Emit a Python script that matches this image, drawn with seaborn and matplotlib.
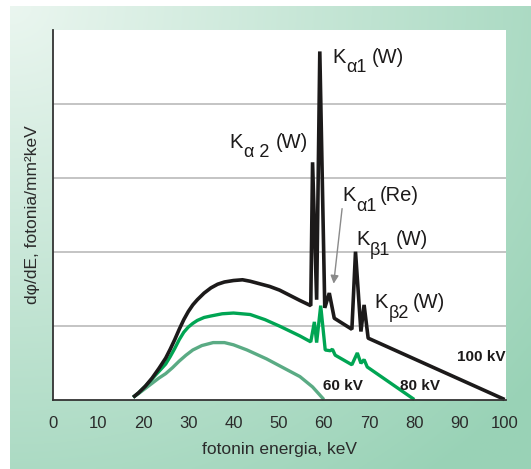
import numpy as np
import matplotlib.pyplot as plt
import seaborn as sns

# Spektrit luettu kuvasta: energia (keV) ja dphi/dE (suhteellinen, ruudukon yksikkö)
e100 = [17.8, 19.0, 20.5, 22.0, 23.5, 25.0, 26.0, 27.0, 28.0, 29.0, 30.0, 31.0, 32.0, 33.5, 35.0,
        36.5, 38.0, 40.0, 42.0, 43.7, 48.0, 50.2, 54.7, 57.1, 57.5, 58.4, 59.1, 60.2, 61.2, 62.3,
        66.2, 67.0, 68.2, 68.9, 69.8, 100.0]
d100 = [0.03, 0.09, 0.18, 0.29, 0.42, 0.56, 0.68, 0.81, 0.95, 1.08, 1.19, 1.28, 1.35, 1.44, 1.51,
        1.56, 1.59, 1.61, 1.62, 1.60, 1.53, 1.48, 1.34, 1.27, 3.21, 1.35, 4.71, 1.24, 1.44, 1.10,
        0.95, 2.00, 0.92, 1.28, 0.83, 0.0]

e80 = [17.8, 19.0, 20.5, 22.0, 23.5, 25.0, 26.0, 27.0, 28.0, 29.0, 30.0, 31.0, 32.0, 33.5, 35.0,
       37.5, 40.0, 43.7, 47.0, 50.3, 54.7, 57.1, 57.9, 58.4, 59.3, 60.3, 61.4, 61.9, 62.5, 66.2,
       67.4, 68.2, 68.9, 69.6, 80.0]
d80 = [0.03, 0.09, 0.18, 0.28, 0.38, 0.48, 0.58, 0.69, 0.81, 0.91, 0.98, 1.03, 1.07, 1.11, 1.13,
       1.16, 1.17, 1.15, 1.08, 0.99, 0.86, 0.78, 1.05, 0.77, 1.27, 0.67, 0.66, 0.68, 0.60, 0.47,
       0.63, 0.49, 0.54, 0.44, 0.0]

e60 = [17.8, 19.0, 20.5, 22.0, 23.5, 25.0, 26.5, 28.0, 29.5, 31.0, 33.0, 35.5, 38.0, 40.0, 43.0,
       47.3, 51.0, 54.7, 57.5, 60.0]
d60 = [0.03, 0.08, 0.15, 0.22, 0.29, 0.35, 0.43, 0.52, 0.60, 0.67, 0.73, 0.77, 0.77, 0.74, 0.67,
       0.55, 0.43, 0.31, 0.17, 0.0]

xticks = list(range(0, 101, 10))

sns.set_style("white")
plt.rcParams["font.family"] = ["Liberation Sans", "DejaVu Sans"]

fig = plt.figure(figsize=(5.31, 4.69), dpi=100)
fig.patch.set_facecolor("white")

# vihreä liukuväritausta
bg = fig.add_axes([10 / 531, 0, 1 - 10 / 531, 1 - 6 / 469])
yy, xx = np.mgrid[0:1:200j, 0:1:200j]
r = np.clip(np.sqrt(xx ** 2 + yy ** 2) / 1.3, 0, 1)
c0 = np.array([0.92, 0.965, 0.94])
c1 = np.array([0.60, 0.825, 0.715])
bg.imshow(c0 + (c1 - c0) * r[..., None], aspect="auto", extent=[0, 1, 1, 0])
bg.axis("off")

ax = fig.add_axes([52.7 / 531, 1 - 399.5 / 469, (506 - 52.7) / 531, (399.5 - 30) / 469])
ax.set_facecolor("white")

sns.lineplot(x=e60, y=d60, color="#5aab84", lw=2.4, sort=False, estimator=None, ax=ax)
sns.lineplot(x=e80, y=d80, color="#00a553", lw=2.4, sort=False, estimator=None, ax=ax)
sns.lineplot(x=e100, y=d100, color="#1c1a1a", lw=2.6, sort=False, estimator=None, ax=ax)
for ln in ax.lines:
    ln.set_solid_joinstyle("bevel")
    ln.set_solid_capstyle("butt")
    ln.set_clip_on(False)

ax.set_xlim(0, 100.3)
ax.set_ylim(0, 5)
ax.set_xticks(xticks)
ax.set_xticklabels([str(t) for t in xticks])
ax.set_xticks(xticks[1:-1], minor=True)
ax.set_yticks([5])
ax.set_yticklabels([])
ax.set_yticks([1, 2, 3, 4], minor=True)
ax.grid(which="minor", color="#b4b4b4", lw=1.1)
ax.grid(which="major", visible=False)
ax.tick_params(which="minor", length=0)
ax.tick_params(axis="y", which="major", direction="in", length=4, width=1.3, color="#333333")
ax.tick_params(axis="x", which="major", direction="in", length=4, width=1.3, color="#333333",
               labelsize=12, labelcolor="#2b2b2b", pad=12)
for t in ax.xaxis.get_major_ticks()[:-1]:
    t.tick1line.set_markersize(0)

for s in ["top", "right"]:
    ax.spines[s].set_visible(False)
for s in ["left", "bottom"]:
    ax.spines[s].set_color("#333333")
    ax.spines[s].set_linewidth(1.3)

ax.set_xlabel("fotonin energia, keV", fontsize=12.5, color="#2b2b2b", labelpad=8)
ax.set_ylabel("dφ/dE, fotonia/mm²keV", fontsize=12.5, color="#2b2b2b", labelpad=6)


def klabel(x, y, sub, tail, gap=4):
    k = ax.text(x, y, "K", fontsize=14.5, color="#1c1a1a", va="baseline", ha="left")
    s = ax.annotate(sub, xy=(1, y), xycoords=(k, "data"), xytext=(0.3, -7),
                    textcoords="offset points", fontsize=13, color="#1c1a1a", va="baseline")
    ax.annotate(tail, xy=(1, y), xycoords=(s, "data"), xytext=(gap, 0),
                textcoords="offset points", fontsize=14.5, color="#1c1a1a", va="baseline")


klabel(61.8, 4.56, "α1", "(W)")
klabel(39.2, 3.41, "α 2", "(W)", gap=5)
klabel(64.2, 2.68, "α1", "(Re)", gap=2)
klabel(67.2, 2.09, "β1", "(W)")
klabel(71.2, 1.24, "β2", "(W)", gap=3)
ax.annotate("", xy=(62.1, 1.53), xytext=(64.1, 2.62),
            arrowprops=dict(arrowstyle="-|>", color="#8a8a8a", lw=1.0, mutation_scale=12))

bold = dict(fontsize=11, fontweight="bold", color="#1c1a1a", va="center")
ax.text(100.1, 0.58, "100 kV", ha="right", **bold)
ax.text(59.8, 0.18, "60 kV", ha="left", **bold)
ax.text(76.8, 0.18, "80 kV", ha="left", **bold)

fig.savefig("out.png", dpi=100)
